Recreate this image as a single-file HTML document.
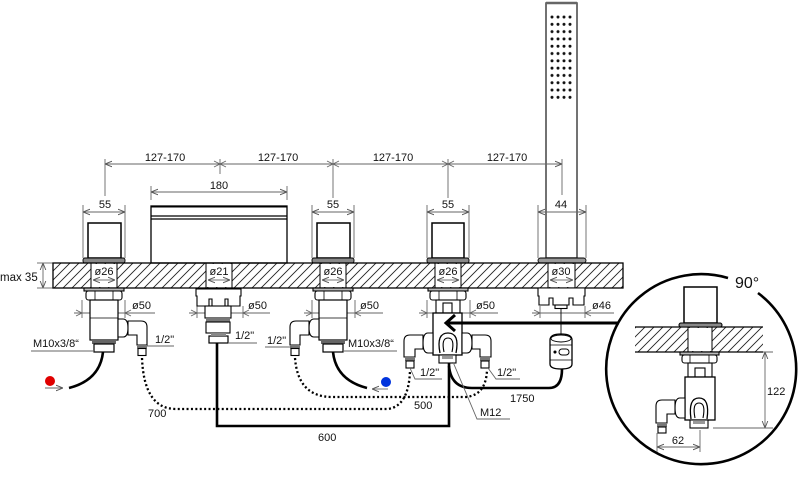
<!DOCTYPE html>
<html><head><meta charset="utf-8">
<style>
html,body{margin:0;padding:0;background:#fff;width:800px;height:486px;overflow:hidden}
svg{display:block}
text{font-family:"Liberation Sans",Arial,sans-serif;font-size:11px;fill:#111}
</style></head>
<body>
<svg width="800" height="486" viewBox="0 0 800 486" xmlns="http://www.w3.org/2000/svg">
<defs>
<pattern id="h" patternUnits="userSpaceOnUse" width="9" height="9"><path d="M0 9L9 0M-2 2L2 -2M7 11L11 7" stroke="#222" stroke-width="0.9"/></pattern>
<pattern id="dots" patternUnits="userSpaceOnUse" x="549" y="13.35" width="6" height="7.3"><circle cx="3" cy="3.65" r="1.5" fill="#111"/></pattern>
<marker id="m" viewBox="0 0 10 10" refX="10" refY="5" markerWidth="7" markerHeight="7" orient="auto-start-reverse" markerUnits="userSpaceOnUse"><path d="M0 1L10 5L0 9" fill="none" stroke="#555" stroke-width="1.3"/></marker>
</defs>

<!-- Hand shower column -->
<rect x="546" y="3" width="31" height="255" fill="#fff" stroke="#444" stroke-width="1.5"/>
<line x1="546" y1="3" x2="577" y2="3" stroke="#666" stroke-width="2.5"/>
<rect x="549" y="13.35" width="24" height="87.6" fill="url(#dots)"/>
<rect x="538" y="258" width="48" height="5" rx="2.5" fill="#999" stroke="#000" stroke-width="0.9"/>

<!-- Spout -->
<rect x="151" y="206" width="136" height="57" fill="#fff" stroke="#000" stroke-width="1.3"/>
<line x1="151" y1="206.5" x2="287" y2="206.5" stroke="#000" stroke-width="2"/>
<line x1="151" y1="216" x2="287" y2="216" stroke="#000" stroke-width="1.2"/>
<line x1="151" y1="219" x2="287" y2="219" stroke="#000" stroke-width="1.2"/>

<!-- Handles -->
<g fill="#fff" stroke="#000" stroke-width="1.5">
<rect x="88" y="223" width="33" height="35"/>
<rect x="317" y="223" width="33" height="35"/>
<rect x="432" y="223" width="32" height="35"/>
</g>
<g fill="#888" stroke="#000" stroke-width="0.9">
<rect x="83" y="258" width="42" height="5" rx="2"/>
<rect x="312" y="258" width="42" height="5" rx="2"/>
<rect x="427" y="258" width="42" height="5" rx="2"/>
</g>

<!-- Top dimensions -->
<g stroke="#666" stroke-width="0.9" fill="none">
<line x1="105" y1="164" x2="562" y2="164" marker-start="url(#m)" marker-end="url(#m)"/>
<path d="M214 161L220 164L214 167M226 161L220 164L226 167"/>
<path d="M327 161L333 164L327 167M339 161L333 164L339 167"/>
<path d="M442 161L448 164L442 167M454 161L448 164L454 167"/>
<line x1="105" y1="159" x2="105" y2="196"/>
<line x1="220" y1="159" x2="220" y2="174"/>
<line x1="333" y1="159" x2="333" y2="198"/>
<line x1="448" y1="159" x2="448" y2="198"/>
<line x1="562" y1="159" x2="562" y2="195"/>
<!-- 180 -->
<line x1="151" y1="192" x2="287" y2="192" marker-start="url(#m)" marker-end="url(#m)"/>
<line x1="151" y1="186" x2="151" y2="200"/>
<line x1="287" y1="186" x2="287" y2="200"/>
<!-- 55 / 44 -->
<line x1="83" y1="212" x2="125" y2="212" marker-start="url(#m)" marker-end="url(#m)"/>
<line x1="83" y1="205" x2="83" y2="258"/><line x1="125" y1="205" x2="125" y2="258"/>
<line x1="312" y1="212" x2="354" y2="212" marker-start="url(#m)" marker-end="url(#m)"/>
<line x1="312" y1="205" x2="312" y2="258"/><line x1="354" y1="205" x2="354" y2="258"/>
<line x1="427" y1="212" x2="469" y2="212" marker-start="url(#m)" marker-end="url(#m)"/>
<line x1="427" y1="205" x2="427" y2="258"/><line x1="469" y1="205" x2="469" y2="258"/>
<line x1="538" y1="212" x2="586" y2="212" marker-start="url(#m)" marker-end="url(#m)"/>
<line x1="538" y1="205" x2="538" y2="258"/><line x1="586" y1="205" x2="586" y2="258"/>
<!-- max 35 -->
<line x1="43" y1="263" x2="43" y2="288" marker-start="url(#m)" marker-end="url(#m)"/>
<line x1="37" y1="263" x2="53" y2="263"/><line x1="37" y1="288" x2="53" y2="288"/>
</g>
<g text-anchor="middle">
<text x="165" y="161">127-170</text>
<text x="278" y="161">127-170</text>
<text x="393" y="161">127-170</text>
<text x="507" y="161">127-170</text>
<text x="219" y="189">180</text>
<text x="105" y="208">55</text>
<text x="333" y="208">55</text>
<text x="448" y="208">55</text>
<text x="561" y="208">44</text>
</g>
<text x="0" y="281" style="font-size:11.5px">max 35</text>

<!-- Slab -->
<rect x="53" y="263" width="570" height="25" fill="url(#h)" stroke="#000" stroke-width="1.3"/>
<g fill="#fff" stroke="none">
<rect x="91" y="264" width="26" height="23"/>
<rect x="206" y="264" width="26" height="23"/>
<rect x="320" y="264" width="26" height="23"/>
<rect x="435" y="264" width="26" height="23"/>
<rect x="548" y="264" width="27" height="23"/>
</g>
<g stroke="#000" stroke-width="1">
<path d="M91 263V288M117 263V288M206 263V288M232 263V288M320 263V288M346 263V288M435 263V288M461 263V288M548 263V288M575 263V288"/>
</g>
<g stroke="#777" stroke-width="0.9" fill="none">
<line x1="93" y1="280" x2="115" y2="280" marker-start="url(#m)" marker-end="url(#m)"/>
<line x1="208" y1="280" x2="230" y2="280" marker-start="url(#m)" marker-end="url(#m)"/>
<line x1="322" y1="280" x2="344" y2="280" marker-start="url(#m)" marker-end="url(#m)"/>
<line x1="437" y1="280" x2="459" y2="280" marker-start="url(#m)" marker-end="url(#m)"/>
<line x1="550" y1="280" x2="573" y2="280" marker-start="url(#m)" marker-end="url(#m)"/>
</g>
<g text-anchor="middle">
<text x="104" y="275">ø26</text>
<text x="219" y="275">ø21</text>
<text x="333" y="275">ø26</text>
<text x="448" y="275">ø26</text>
<text x="561" y="275">ø30</text>
</g>

<!-- ø50 dims -->
<g stroke="#666" stroke-width="0.9" fill="none">
<path d="M74 313H155M76 310L82 313L76 316M131 310L125 313L131 316M82 300V318M125 300V318"/>
<path d="M189 313H270M191 310L197 313L191 316M249 310L243 313L249 316M197 306V318M243 306V318"/>
<path d="M304 313H383M306 310L312 313L306 316M361 310L355 313L361 316M312 300V318M355 300V318"/>
<path d="M419 313H498M421 310L427 313L421 316M476 310L470 313L476 316M427 300V318M470 300V318"/>
<path d="M532 313H614M534 310L540 313L534 316M591 310L585 313L591 316M540 306V318M585 306V318"/>
</g>
<text x="132" y="309">ø50</text>
<text x="248" y="309">ø50</text>
<text x="360" y="309">ø50</text>
<text x="476" y="309">ø50</text>
<text x="592" y="309">ø46</text>

<!-- Left mixer (c=104) -->
<g id="mix" fill="#fff" stroke="#000" stroke-width="1.1">
<rect x="84" y="288" width="40" height="3" fill="#bbb"/>
<rect x="86" y="291" width="36" height="9" rx="2.5"/>
<path d="M95 291V300M113 291V300" stroke-width="0.8"/>
<rect x="90" y="300" width="28" height="40" stroke-width="1.2"/>
<line x1="90" y1="318" x2="118" y2="318" stroke-width="0.7"/>
<rect x="92" y="340" width="24" height="4" fill="#666" stroke="none"/>
<rect x="94" y="344" width="20" height="8" stroke-width="1.2"/>
<path d="M118 319H123Q128 319 128 328Q128 337 123 337H118Z"/>
<path d="M128 321H141Q147 321 147 327V345H137V335H128Z"/>
<rect x="137" y="345" width="10" height="3.5" fill="#777" stroke="none"/>
<rect x="138" y="348.5" width="8" height="7"/>
</g>
<!-- Middle mixer mirrored -->
<use href="#mix" transform="translate(437,0) scale(-1,1)"/>

<!-- Spout under-slab -->
<g fill="#fff" stroke="#000" stroke-width="1.1">
<path d="M196 289H241V296H240V306H228V299H225V306H212V299H209V306H197V296H196Z"/>
<rect x="205" y="306" width="26" height="12"/>
<rect x="206" y="318" width="24" height="4" fill="#777" stroke="none"/>
<rect x="206" y="322" width="24" height="11"/>
<rect x="209" y="336" width="19" height="7" stroke-width="1.2"/>
<rect x="211" y="333" width="15" height="3" fill="#888" stroke="none"/>
</g>

<!-- Shower under-slab -->
<g fill="#fff" stroke="#000" stroke-width="1.1">
<path d="M538 288H585V296H584V305H573V298H569V305H553V298H549V305H539V296H538Z"/>
<rect x="555" y="305" width="12" height="3.5"/>
<line x1="561" y1="308" x2="561" y2="336" stroke-width="0.9"/>
<path d="M550 340Q550 334 561 334Q572 334 572 340V364Q572 369 561 369Q550 369 550 364Z" stroke-width="1.3"/>
<ellipse cx="561" cy="338.5" rx="10" ry="3.5" stroke-width="0.9"/>
<line x1="550" y1="345" x2="572" y2="345" stroke-width="0.7"/>
<line x1="550" y1="360" x2="572" y2="360" stroke-width="0.7"/>
<rect x="559" y="349" width="10" height="6" rx="3" stroke-width="1"/>
<circle cx="555" cy="352" r="1" fill="#000"/>
</g>

<!-- Diverter (c=448) -->
<g fill="#fff" stroke="#000" stroke-width="1.1">
<rect x="428" y="288" width="40" height="3" fill="#bbb"/>
<rect x="430" y="291" width="36" height="9" rx="2.5"/>
<path d="M439 291V300M457 291V300" stroke-width="0.8"/>
<rect x="436" y="300" width="24" height="13"/>
<rect x="443" y="303" width="9" height="10"/>
<rect x="433" y="313" width="29" height="42" stroke-width="1.3"/>
<g id="dl">
<path d="M433 333H428Q423 333 423 343Q423 353 428 353H433Z"/>
<path d="M423 335H410Q404 335 404 341V357H415V349H423Z"/>
<rect x="405" y="357" width="10" height="4" fill="#777" stroke="none"/>
<rect x="406" y="361" width="8" height="7"/>
</g>
<use href="#dl" transform="translate(895,0) scale(-1,1)"/>
<path d="M440 353Q436 333 448 333Q460 333 456 353" fill="none" stroke-width="1.3"/>
<path d="M444 352Q441 338 448 338Q455 338 452 352" fill="none"/>
<rect x="439" y="355" width="17" height="8"/>
<rect x="442" y="356" width="11" height="3" fill="#999" stroke="none"/>
</g>
<path d="M455 315L446 323L455 331" fill="none" stroke="#000" stroke-width="3"/>
<line x1="447" y1="323" x2="619" y2="323" stroke="#000" stroke-width="3"/>

<!-- Hoses -->
<g fill="none" stroke="#000" stroke-width="2.6">
<path d="M103 352Q100 380 69 388"/>
<path d="M333 352Q336 380 367 388"/>
<path d="M217 343V426H449V363"/>
<path d="M449 366Q451 388 472 388H549Q562 388 562 369"/>
</g>
<g fill="none" stroke="#000" stroke-width="2.3" stroke-dasharray="2 2.4">
<path d="M142 358Q144 409 176 409H388Q409 406 410 370"/>
<path d="M295 358Q298 397 332 397H466Q486 395 487 370"/>
</g>

<!-- Water dots -->
<circle cx="50" cy="381" r="5" fill="#e00000"/>
<circle cx="386" cy="382" r="5" fill="#0033dd"/>
<g stroke="#666" stroke-width="0.9" fill="none">
<line x1="45" y1="388" x2="63" y2="388" marker-end="url(#m)"/>
<line x1="388" y1="389" x2="372" y2="389" marker-end="url(#m)"/>
<!-- leaders -->
<path d="M31 351H95"/>
<path d="M147 346H174"/>
<path d="M228 343H257"/>
<path d="M265 347H292"/>
<path d="M343 351H397"/>
<path d="M410 368L415 379H442"/>
<path d="M488 368L496 379H520"/>
<path d="M453 362L477 419H510"/>
</g>
<text x="33" y="347">M10x3/8“</text>
<text x="155" y="343">1/2"</text>
<text x="235" y="339">1/2"</text>
<text x="267" y="344">1/2"</text>
<text x="348" y="347">M10x3/8“</text>
<text x="420" y="376">1/2"</text>
<text x="497" y="376">1/2"</text>
<text x="148" y="417">700</text>
<text x="414" y="409">500</text>
<text x="318" y="441">600</text>
<text x="510" y="402">1750</text>
<text x="480" y="416">M12</text>

<!-- Detail circle -->
<path d="M758 293A95 95 0 1 1 728 278" fill="none" stroke="#000" stroke-width="2.6"/>
<text x="735" y="288" style="font-size:16px">90°</text>
<rect x="635" y="327" width="128" height="25" fill="url(#h)" stroke="none"/>
<path d="M635 327H763M635 352H763" stroke="#000" stroke-width="1.2"/>
<rect x="688" y="328" width="24" height="23" fill="#fff"/>
<path d="M688 327V352M712 327V352" stroke="#000" stroke-width="1"/>
<g fill="#fff" stroke="#000" stroke-width="1.1">
<rect x="684" y="287" width="33" height="36" stroke-width="1.5"/>
<rect x="679" y="323" width="43" height="4" rx="2" fill="#888"/>
<rect x="680" y="352" width="39" height="3" fill="#bbb"/>
<rect x="682" y="355" width="35" height="8" rx="2.5"/>
<path d="M690 355V363M709 355V363" stroke-width="0.8"/>
<rect x="688" y="363" width="24" height="14"/>
<rect x="695" y="368" width="10" height="9"/>
<rect x="685" y="377" width="30" height="43" stroke-width="1.3"/>
<path d="M685 398H680Q675 398 675 408Q675 418 680 418H685Z"/>
<path d="M675 400H662Q656 400 656 406V423H667V414H675Z"/>
<rect x="657" y="423" width="10" height="4" fill="#777" stroke="none"/>
<rect x="658" y="427" width="8" height="6"/>
<path d="M691 419Q688 398 699 398Q710 398 707 419" fill="none" stroke-width="1.3"/>
<path d="M695 418Q692 403 699 403Q706 403 703 418" fill="none"/>
<rect x="690" y="420" width="18" height="8"/>
<rect x="693" y="421" width="12" height="3" fill="#999" stroke="none"/>
</g>
<g stroke="#666" stroke-width="0.9" fill="none">
<line x1="765" y1="352" x2="765" y2="428" marker-start="url(#m)" marker-end="url(#m)"/>
<path d="M763 352H773M713 428H773"/>
<line x1="657" y1="447" x2="700" y2="447" marker-start="url(#m)" marker-end="url(#m)"/>
<path d="M657 433V452M700 430V452"/>
</g>
<text x="767" y="395">122</text>
<text x="678" y="444" text-anchor="middle">62</text>
</svg>
</body></html>
